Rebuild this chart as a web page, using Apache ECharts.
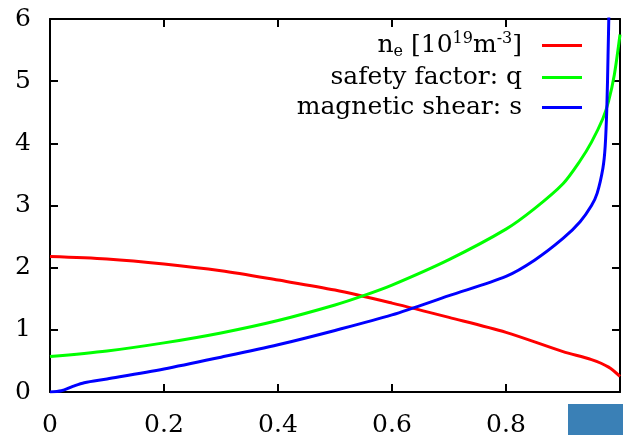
<!DOCTYPE html>
<html>
<head>
<meta charset="utf-8">
<script src="https://cdn.jsdelivr.net/npm/echarts@6/dist/echarts.min.js"></script>
<style>
html, body { margin: 0; padding: 0; background: #fff; }
#chart { width: 623px; height: 435px; }
</style>
</head>
<body>
<div id="chart"></div>
<script>
// density n_e
const neX = [0, 0.1, 0.2, 0.3, 0.4, 0.5, 0.6, 0.7, 0.8, 0.9, 0.95, 0.98, 1.0];
const neY = [2.18, 2.14, 2.06, 1.95, 1.80, 1.64, 1.43, 1.20, 0.96, 0.65, 0.52, 0.40, 0.25];
// safety factor q
const qX = [0, 0.1, 0.2, 0.3, 0.4, 0.5, 0.55, 0.6, 0.7, 0.8, 0.85, 0.9, 0.93, 0.95, 0.97, 0.98, 0.99, 1.0];
const qY = [0.57, 0.66, 0.79, 0.95, 1.15, 1.40, 1.55, 1.72, 2.13, 2.62, 2.95, 3.35, 3.72, 4.02, 4.40, 4.68, 5.10, 5.75];
// magnetic shear s
const sX = [0, 0.02, 0.04, 0.06, 0.1, 0.2, 0.3, 0.4, 0.5, 0.6, 0.7, 0.8, 0.85, 0.9, 0.93, 0.95, 0.96, 0.97, 0.974, 0.977, 0.979, 0.981];
const sY = [0, 0.02, 0.09, 0.15, 0.21, 0.37, 0.56, 0.76, 0.99, 1.24, 1.55, 1.86, 2.12, 2.47, 2.74, 3.0, 3.2, 3.6, 3.95, 4.6, 5.4, 6.3];

const names = ['ne', 'q', 's'];
const labels = {
  ne: '{t|n}{sub|e}{t| [10}{sup|19}{t|m}{sup|-3}{t|]}',
  q: '{t|safety factor: q}',
  s: '{t|magnetic shear: s}'
};

const pairs = (xs, ys) => xs.map((x, i) => [x, ys[i]]);

const font = 'DejaVu Serif';
const chart = echarts.init(document.getElementById('chart'));

// fresh objects per axis, gnuplot-style border with inward ticks
function axis(min, max, interval, position, label) {
  return {
    type: 'value', min: min, max: max, interval: interval, position: position,
    axisLine: { show: true, onZero: false, lineStyle: { color: '#000', width: 2 } },
    axisTick: { show: true, inside: true, length: 8, lineStyle: { color: '#000', width: 2 } },
    splitLine: { show: false },
    axisLabel: label || { show: false }
  };
}

const option = {
  animation: false,
  grid: { left: 50, right: 3, top: 19, bottom: 43, outerBoundsMode: 'none', containLabel: false },
  xAxis: [
    axis(0, 1, 0.2, 'bottom', { color: '#000', fontFamily: font, fontSize: 25, margin: 21 }),
    axis(0, 1, 0.2, 'top')
  ],
  yAxis: [
    axis(0, 6, 1, 'left', { color: '#000', fontFamily: font, fontSize: 25, margin: 19 }),
    axis(0, 6, 1, 'right')
  ],
  legend: {
    orient: 'vertical',
    right: 36,
    top: 26,
    align: 'right',
    itemWidth: 40,
    itemHeight: 3,
    itemGap: 5,
    icon: 'rect',
    data: names,
    formatter: n => labels[n],
    textStyle: {
      padding: [0, 15, 0, 0],
      rich: {
        t: { fontFamily: font, fontSize: 25, color: '#000', lineHeight: 29 },
        sup: { fontFamily: font, fontSize: 16, color: '#000', lineHeight: 15, verticalAlign: 'top' },
        sub: { fontFamily: font, fontSize: 16, color: '#000', lineHeight: 15, verticalAlign: 'bottom' }
      }
    }
  },
  series: [
    { name: 'ne', type: 'line', data: pairs(neX, neY), smooth: 0.3, showSymbol: false,
      lineStyle: { color: '#ff0000', width: 3 }, itemStyle: { color: '#ff0000' } },
    { name: 'q', type: 'line', data: pairs(qX, qY), smooth: 0.3, showSymbol: false,
      lineStyle: { color: '#00ff00', width: 3 }, itemStyle: { color: '#00ff00' } },
    { name: 's', type: 'line', data: pairs(sX, sY), smooth: 0.3, showSymbol: false,
      lineStyle: { color: '#0000ff', width: 3 }, itemStyle: { color: '#0000ff' } }
  ],
  graphic: [
    { type: 'rect', z: 100, shape: { x: 568, y: 404, width: 60, height: 40 },
      style: { fill: '#3a80b6' } }
  ]
};

chart.setOption(option);
</script>
</body>
</html>
